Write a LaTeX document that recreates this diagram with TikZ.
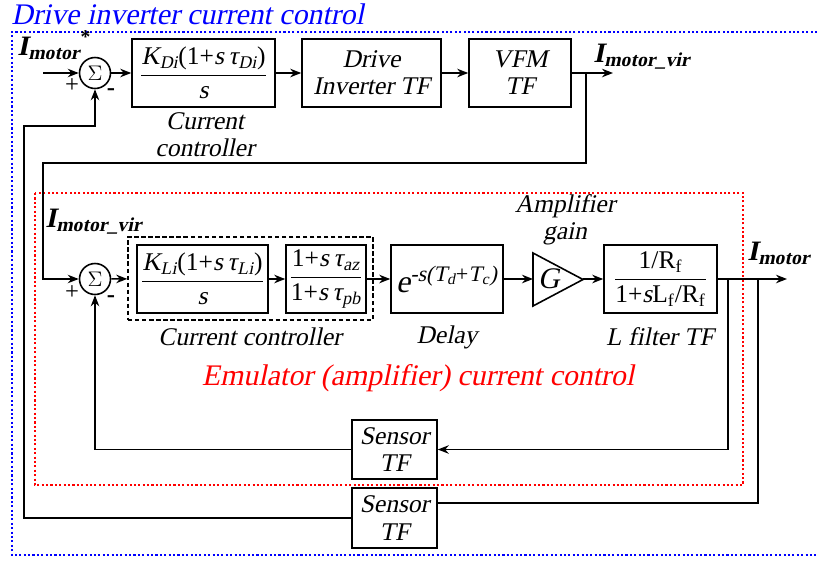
\documentclass[tikz,border=0pt]{standalone}
\usepackage{amsmath}
\usepackage{fontspec}
\setmainfont{Liberation Serif}[
  ItalicFont={Liberation Serif}, ItalicFeatures={FakeSlant=0.21},
  BoldItalicFont={Liberation Serif Bold}, BoldItalicFeatures={FakeSlant=0.21}]
\usepackage{tikz}
\usetikzlibrary{arrows.meta}
\tikzset{>=stealth}
\tikzset{
  blk/.style={draw, line width=0.9pt, minimum height=1.36cm, inner sep=1pt, align=center, font=\fontsize{14.5}{15.5}\selectfont\itshape},
  sumnode/.style={draw, circle, line width=0.9pt, minimum size=0.62cm, inner sep=0pt, font=\fontsize{12}{12}\selectfont},
  sig/.style={-{Stealth[length=2.2mm,width=1.7mm]}, line width=0.9pt},
  wire/.style={line width=0.9pt},
  lbl/.style={font=\fontsize{14.5}{15.5}\selectfont\itshape, align=center},
  sgn/.style={font=\fontsize{14}{15}\selectfont},
  curlbl/.style={font=\fontsize{16}{17}\selectfont, anchor=base west, inner sep=0pt},
  dotframe/.style={line width=1pt, dash pattern=on 1.2pt off 1.3pt},
}
\newcommand{\curr}[1]{\textbf{\textit{I}}\textsubscript{\textbf{\textit{#1}}}}
% fraction set in the text font
\newcommand{\txtfrac}[2]{$\dfrac{\text{\upshape #1}}{\text{\upshape #2}}$}

\begin{document}
\begin{tikzpicture}[x=0.02cm, y=-0.02cm]
        \useasboundingbox (0,0) rectangle (817,561);

        % Frames
        \draw [blue, dotframe] (817,32) -- (12,32) -- (12,555) -- (817,555);
        \node [blue, anchor=base west, inner sep=0pt, font=\fontsize{17}{18}\selectfont\itshape] (drvtitle) at (11,24) {Drive inverter current control};
        \draw [red, dotframe] (35,193) rectangle (743,485);
        \node [red, font=\fontsize{17}{18}\selectfont\itshape] (emutitle) at (418,378) {Emulator (amplifier) current control};

        % Drive inverter loop
        \coordinate (in1) at (43,73);
        \node [sumnode] (s1) at (95,73) {$\Sigma$};
        \node [sgn] (p1) at (72,86) {+};
        \node [sgn] (m1) at (111,92) {\textbf{-}};
        \node [blk, minimum width=2.86cm] (kd) at (203.5,73) {\txtfrac{\textit{K}\textsubscript{\textit{Di}}(1+\textit{s\,τ}\textsubscript{\textit{Di}})}{\textit{s}}};
        \node [blk, minimum width=2.78cm] (dit) at (371.5,73) {Drive\\Inverter TF};
        \node [blk, minimum width=2.04cm] (vfm) at (520,73) {VFM\\TF};
        \coordinate (br1) at (586,73);
        \coordinate (out1) at (613,73);
        \coordinate (c1) at (43,163);
        \coordinate (c2) at (24,126);
        \node [curlbl] (imstar) at (17,55) {\curr{motor}\textsuperscript{\textbf{*}}};
        \node [curlbl] (imvir1) at (593,62) {\curr{motor\_vir}};
        \node [lbl] (cclbl1) at (205,135) {Current\\controller};

        \draw [sig] (in1) -- (s1);
        \draw [sig] (s1) -- (kd);
        \draw [sig] (kd) -- (dit);
        \draw [sig] (dit) -- (vfm);
        \draw [sig] (vfm) -- (out1);

        % Emulator loop
        \node [sumnode] (s2) at (95,279) {$\Sigma$};
        \node [sgn] (p2) at (72,293) {+};
        \node [sgn] (m2) at (111,299) {\textbf{-}};
        \node [draw, dash pattern=on 2.5pt off 1.5pt, line width=0.9pt, minimum width=4.9cm, minimum height=1.66cm] (cc) at (250.5,278.5) {};
        \node [blk, minimum width=2.62cm] (kl) at (202.5,279) {\txtfrac{\textit{K}\textsubscript{\textit{Li}}(1+\textit{s\,τ}\textsubscript{\textit{Li}})}{\textit{s}}};
        \node [blk, minimum width=1.6cm, inner sep=0pt] (tau) at (326,279) {\txtfrac{1+\textit{s\,τ}\textsubscript{\textit{az}}}{1+\textit{s\,τ}\textsubscript{\textit{pb}}}};
        \node [blk, minimum width=2.24cm, font=\fontsize{18}{19}\selectfont\itshape] (dl) at (447,279) {e\textsuperscript{-s(T\textsubscript{d}\upshape{+}\itshape T\textsubscript{c})}};
        \draw [wire] (533,253) -- (583,279.5) -- (533,306) -- cycle;
        \node [sgn, font=\fontsize{17}{17}\selectfont] (g) at (549,279) {\textit{G}};
        \coordinate (gin) at (533,279);
        \coordinate (gout) at (583,279);
        \node [blk, minimum width=2.26cm] (lf) at (660.5,279) {\txtfrac{1/R\textsubscript{f}}{1+\textit{s}L\textsubscript{f}/R\textsubscript{f}}};
        \coordinate (br2) at (728,279);
        \coordinate (br3) at (758,279);
        \coordinate (out2) at (787,279);
        \node [curlbl] (imvir2) at (45,227) {\curr{motor\_vir}};
        \node [curlbl] (imot) at (747,260) {\curr{motor}};
        \node [lbl] (cclbl2) at (250,337) {Current controller};
        \node [lbl] (dllbl) at (447,337) {Delay};
        \node [lbl] (lflbl) at (660,337) {L filter TF};
        \node [lbl] (amplbl) at (565,220) {Amplifier\\gain};

        \draw [sig] (s2) -- (cc);
        \draw [sig] (kl) -- (tau);
        \draw [sig] (tau) -- (dl);
        \draw [sig] (dl) -- (gin);
        \draw [sig] (gout) -- (lf);
        \draw [sig] (lf) -- (out2);

        % Sensors and feedback paths
        \node [blk, minimum width=1.7cm, minimum height=1.18cm] (sn1) at (394.5,449.5) {Sensor\\TF};
        \node [blk, minimum width=1.7cm, minimum height=1.2cm] (sn2) at (394.5,518) {Sensor\\TF};
        \coordinate (sn2in) at (437,503);

        \draw [sig] (br1) |- (c1) |- (s2);
        \draw [sig] (br2) |- (sn1);
        \draw [sig] (sn1) -| (s2);
        \draw [wire] (br3) |- (sn2in);
        \draw [sig] (sn2) -| (c2) -| (s1);
      \end{tikzpicture}
\end{document}
